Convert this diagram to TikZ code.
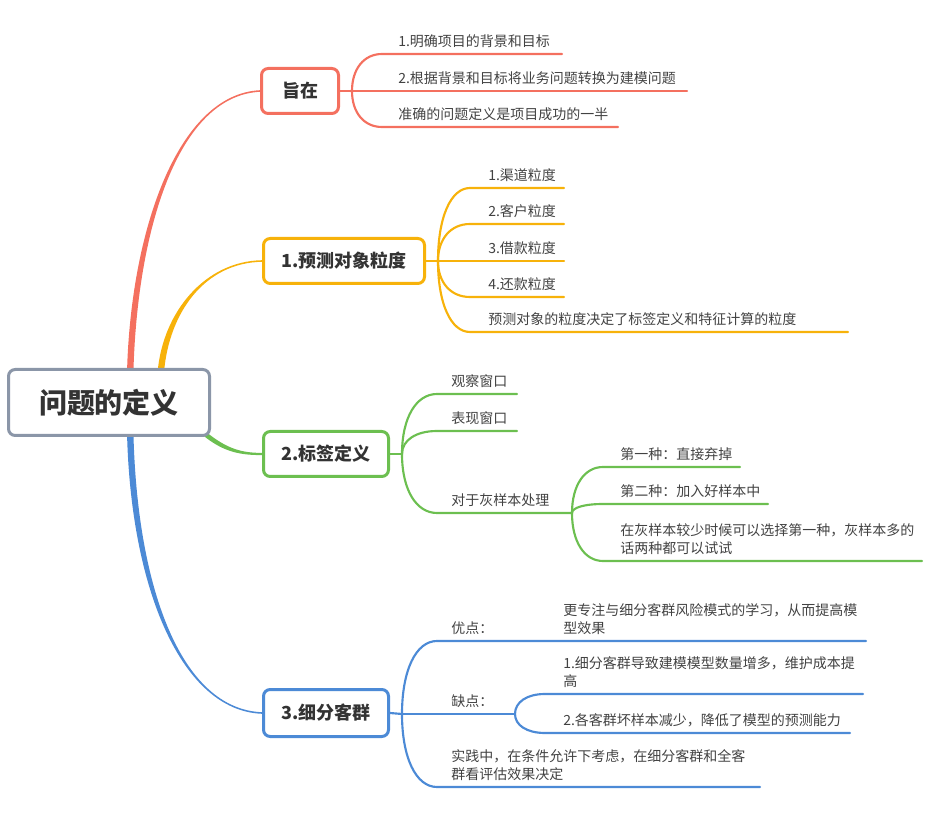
\documentclass[tikz,border=0pt]{standalone}
\usepackage{fontspec}
\setmainfont{Noto Sans CJK SC}
\usetikzlibrary{calc,backgrounds}
\definecolor{cred}{HTML}{F4705F}
\definecolor{corange}{HTML}{F7B20A}
\definecolor{cgreen}{HTML}{6CBF50}
\definecolor{cblue}{HTML}{4C8AD6}
\definecolor{cgray}{HTML}{8B96A8}
\definecolor{txtmain}{HTML}{333333}
\definecolor{txtleaf}{HTML}{424242}
% tapered main branch: colour, start, c1, c2, end, start offset, end offset
\newcommand\mybranch[7]{%
  \fill[#1] ($(#2)+(#6)$) .. controls ($(#3)+(#6)$) and ($(#4)+(#7)$) .. ($(#5)+(#7)$)
    -- ($(#5)-(#7)$) .. controls ($(#4)-(#7)$) and ($(#3)-(#6)$) .. ($(#2)-(#6)$) -- cycle;}
% curved leaf connector: from branch point B to underline start T, then to end E
\newcommand\leafline[3]{%
  (#1) .. controls ($(#1)!0.6!(#1|-#2)$) and ($(#2)!0.6!(#2-|#1)$) .. (#2) -- (#3)}
\begin{document}
\begin{tikzpicture}[x=0.75pt,y=-0.75pt,
  box/.style={draw, line width=2.25pt, rounded corners=5pt, fill=white,
    font=\bfseries\fontsize{13.5}{16}\selectfont, text=txtmain, inner sep=0pt},
  leaf/.style={anchor=south west, inner sep=0pt, align=left,
    font=\fontsize{10.5}{13.5}\selectfont, text=txtleaf},
  sub/.style={line width=1.6pt, line cap=round}]
\useasboundingbox (0,0) rectangle (943,816);

% ---------- boxes ----------
\node[box, draw=cgray, minimum width=150.75pt, minimum height=49.5pt,
  font=\bfseries\fontsize{21}{24}\selectfont] (root) at (109,402.5) {问题的定义};
\node[box, draw=cred, minimum width=57.75pt, minimum height=33.75pt] (zz) at (300,91) {旨在};
\node[box, draw=corange, minimum width=120.75pt, minimum height=33.75pt] (b1) at (344,261) {1.预测对象粒度};
\node[box, draw=cgreen, minimum width=93.75pt, minimum height=33.75pt] (b2) at (326,454) {2.标签定义};
\node[box, draw=cblue, minimum width=93.75pt, minimum height=35.25pt] (b3) at (326,713) {3.细分客群};

% ---------- coordinates ----------
\coordinate (rS) at ($(root.north west)!0.604!(root.north east)+(0,4)$);
\coordinate (oS) at ($(root.north west)!0.754!(root.north east)+(0,4)$);
\coordinate (gS) at ($(root.south east)+(-6,-3)$);
\coordinate (bS) at ($(root.south west)!0.604!(root.south east)+(0,-4)$);

% red
\coordinate (rb) at (352,91);
\coordinate (r1s) at (382,54);  \coordinate (r1e) at (562,54);
\coordinate (r2e) at (687,91);
\coordinate (r3s) at (382,127); \coordinate (r3e) at (618,127);
% orange
\coordinate (ob) at (438,261);
\coordinate (o1s) at (470,188); \coordinate (o1e) at (564,188);
\coordinate (o2s) at (470,224); \coordinate (o2e) at (564,224);
\coordinate (o3e) at (564,261);
\coordinate (o4s) at (470,297); \coordinate (o4e) at (564,297);
\coordinate (o5s) at (470,332); \coordinate (o5e) at (848,332);
% green
\coordinate (gb) at (402,454);
\coordinate (g1s) at (437,394); \coordinate (g1e) at (517,394);
\coordinate (g2s) at (437,431); \coordinate (g2e) at (517,431);
\coordinate (g3s) at (437,513); \coordinate (gs) at (572,513);
\coordinate (g31s) at (603,467); \coordinate (g31e) at (740,467);
\coordinate (g32s) at (603,504); \coordinate (g32e) at (768,504);
\coordinate (g33s) at (603,561); \coordinate (g33e) at (922,561);
% blue
\coordinate (bb) at (402,714);
\coordinate (u1s) at (437,641); \coordinate (u1m) at (548,641); \coordinate (u1e) at (866,641);
\coordinate (bs) at (515,714);
\coordinate (u21s) at (545,694); \coordinate (u21e) at (863,694);
\coordinate (u22s) at (545,733); \coordinate (u22e) at (850,733);
\coordinate (u3s) at (437,787); \coordinate (u3e) at (760,787);

% ---------- connectors ----------
\begin{scope}[on background layer]
  \mybranch{cred}{rS}{134,230}{178,95}{zz.west}{-3.2,0}{0,-0.8}
  \mybranch{corange}{oS}{166,312}{205,262}{b1.west}{-3.2,0}{0,-0.8}
  \mybranch{cgreen}{gS}{226,451}{242,454}{b2.west}{1.3,-1.9}{0,-1.1}
  \mybranch{cblue}{bS}{134,590}{182,710}{b3.west}{-3.2,0}{0,0.8}

  \draw[sub, cred] (zz.east) -- (rb);
  \draw[sub, cred] \leafline{rb}{r1s}{r1e};
  \draw[sub, cred] (rb) -- (r2e);
  \draw[sub, cred] \leafline{rb}{r3s}{r3e};

  \draw[sub, corange] (b1.east) -- (ob);
  \draw[sub, corange] \leafline{ob}{o1s}{o1e};
  \draw[sub, corange] \leafline{ob}{o2s}{o2e};
  \draw[sub, corange] (ob) -- (o3e);
  \draw[sub, corange] \leafline{ob}{o4s}{o4e};
  \draw[sub, corange] \leafline{ob}{o5s}{o5e};

  \draw[sub, cgreen] (b2.east) -- (gb);
  \draw[sub, cgreen] \leafline{gb}{g1s}{g1e};
  \draw[sub, cgreen] \leafline{gb}{g2s}{g2e};
  \draw[sub, cgreen] \leafline{gb}{g3s}{gs};
  \draw[sub, cgreen] \leafline{gs}{g31s}{g31e};
  \draw[sub, cgreen] \leafline{gs}{g32s}{g32e};
  \draw[sub, cgreen] \leafline{gs}{g33s}{g33e};

  \draw[sub, cblue] (b3.east) -- (bb);
  \draw[sub, cblue] \leafline{bb}{u1s}{u1m} -- (u1e);
  \draw[sub, cblue] (bb) -- (bs);
  \draw[sub, cblue] \leafline{bs}{u21s}{u21e};
  \draw[sub, cblue] \leafline{bs}{u22s}{u22e};
  \draw[sub, cblue] \leafline{bb}{u3s}{u3e};
\end{scope}

% ---------- leaf texts ----------
\node[leaf] (r1) at (398,52) {\strut 1.明确项目的背景和目标};
\node[leaf] (r2) at (398,89) {\strut 2.根据背景和目标将业务问题转换为建模问题};
\node[leaf] (r3) at (398,125) {\strut 准确的问题定义是项目成功的一半};

\node[leaf] (o1) at (488,186) {\strut 1.渠道粒度};
\node[leaf] (o2) at (488,222) {\strut 2.客户粒度};
\node[leaf] (o3) at (488,259) {\strut 3.借款粒度};
\node[leaf] (o4) at (488,295) {\strut 4.还款粒度};
\node[leaf] (o5) at (488,330) {\strut 预测对象的粒度决定了标签定义和特征计算的粒度};

\node[leaf] (g1) at (451,392) {\strut 观察窗口};
\node[leaf] (g2) at (451,429) {\strut 表现窗口};
\node[leaf] (g3) at (451,511) {\strut 对于灰样本处理};
\node[leaf] (g31) at (620,465) {\strut 第一种：直接弃掉};
\node[leaf] (g32) at (620,502) {\strut 第二种：加入好样本中};
\node[leaf] (g33) at (620,559) {\strut 在灰样本较少时候可以选择第一种，灰样本多的\\\strut 话两种都可以试试};

\node[leaf] (u1) at (451,639) {\strut 优点：};
\node[leaf] (u11) at (563,639) {\strut 更专注与细分客群风险模式的学习，从而提高模\\\strut 型效果};
\node[leaf] (u2) at (451,712) {\strut 缺点：};
\node[leaf] (u21) at (563,692) {\strut 1.细分客群导致建模模型数量增多，维护成本提\\\strut 高};
\node[leaf] (u22) at (563,731) {\strut 2.各客群坏样本减少，降低了模型的预测能力};
\node[leaf] (u3) at (451,785) {\strut 实践中，在条件允许下考虑，在细分客群和全客\\\strut 群看评估效果决定};
\end{tikzpicture}
\end{document}
